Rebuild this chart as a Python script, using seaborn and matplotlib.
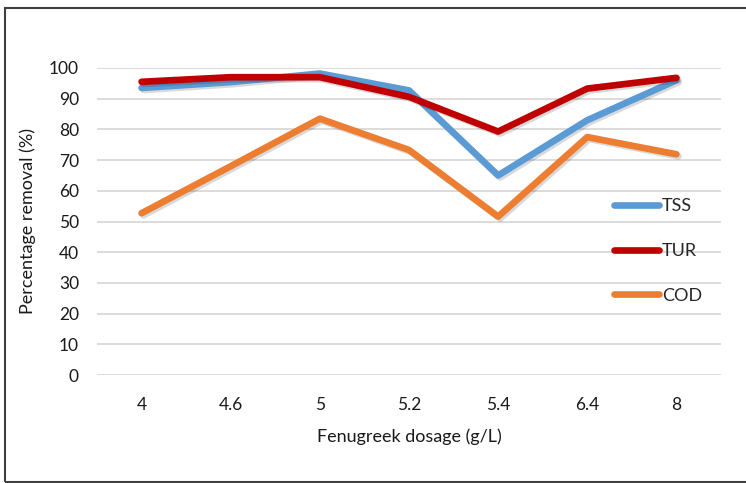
import matplotlib
matplotlib.use("Agg")
import matplotlib.pyplot as plt
import matplotlib.patheffects as pe
from matplotlib.patches import Rectangle
from matplotlib.lines import Line2D
import seaborn as sns
import pandas as pd

dosage = ["4", "4.6", "5", "5.2", "5.4", "6.4", "8"]
tss = [93.5, 95.4, 98.2, 92.7, 65.0, 83.0, 96.0]
tur = [95.5, 97.0, 97.0, 90.6, 79.3, 93.3, 96.8]
cod = [52.7, 68.0, 83.5, 73.3, 51.6, 77.5, 71.9]
series = ["TSS", "TUR", "COD"]
colors = {"TSS": "#5B9BD5", "TUR": "#C00000", "COD": "#ED7D31"}

df = pd.DataFrame({
    "dosage": dosage * 3,
    "value": tss + tur + cod,
    "series": [s for s in series for _ in dosage],
})

sns.set_style("white")
plt.rcParams["font.family"] = ["Lato", "DejaVu Sans"]

fig = plt.figure(figsize=(7.46, 4.83), dpi=100)
ax = fig.add_axes([97 / 746, 1 - 375 / 483, (721 - 97) / 746, (375 - 68) / 483])

sns.lineplot(data=df, x="dosage", y="value", hue="series", hue_order=series,
             palette=colors, sort=False, linewidth=4.8, ax=ax, legend=False)
for ln in ax.lines:
    ln.set_clip_on(False)
    ln.set_solid_capstyle("round")
    ln.set_path_effects([pe.SimpleLineShadow(offset=(1.5, -1.5), alpha=0.15, shadow_color="black"),
                         pe.Normal()])

ax.set_ylim(0, 100)
ax.set_xlim(-0.5, len(dosage) - 0.5)
ax.set_yticks(range(0, 101, 10))
ax.grid(axis="y", color="#d9d9d9", linewidth=1.3)
ax.grid(axis="x", visible=False)
ax.set_axisbelow(True)
for s in ax.spines.values():
    s.set_visible(False)
ax.tick_params(axis="y", length=0, pad=13, labelsize=12.5, labelcolor="#1a1a1a")
ax.tick_params(axis="x", length=0, pad=16, labelsize=12.5, labelcolor="#1a1a1a")
ax.set_xlabel("Fenugreek dosage (g/L)", fontsize=13, labelpad=11, color="#1a1a1a")
ax.set_ylabel("Percentage removal (%)", fontsize=13, labelpad=9, color="#1a1a1a")

handles = [Line2D([0], [0], color=colors[s], linewidth=4.8, solid_capstyle="round") for s in series]
fig.legend(handles, series, loc="upper left", bbox_to_anchor=(614 / 746, 1 - 198 / 483),
           frameon=False, fontsize=13, handlelength=2.5, handletextpad=0.15,
           labelspacing=1.6, borderpad=0, borderaxespad=0)

fig.patches.append(Rectangle((5 / 746, 0.002), 1 - 5 / 746 + 0.01, 1 - 8 / 483 - 0.002,
                             transform=fig.transFigure, fill=False, edgecolor="#404040",
                             linewidth=1.5, figure=fig))

fig.savefig("out.png", dpi=100)
